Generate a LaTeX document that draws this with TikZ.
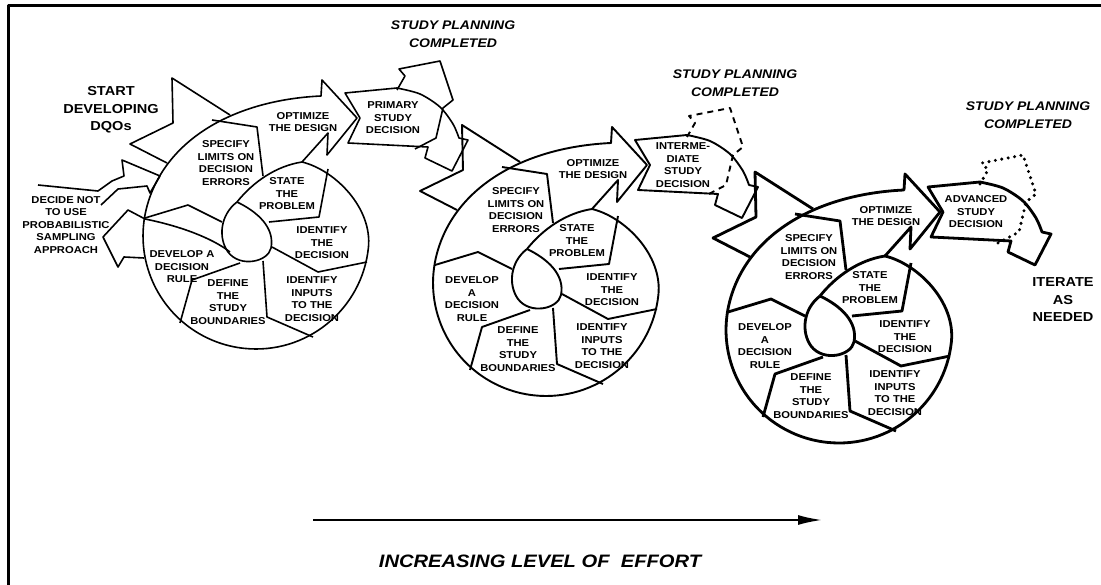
\documentclass[tikz,border=0pt]{standalone}
\usepackage{fontspec}
\setmainfont{Liberation Sans}
\newfontfamily\widesans[FakeStretch=1.12]{Liberation Sans}
\usetikzlibrary{arrows.meta}
\tikzset{
  lbl/.style={font=\widesans\fontsize{10}{12.5}\selectfont\bfseries, align=center, inner sep=0pt},
  big/.style={font=\widesans\fontsize{13}{17.5}\selectfont\bfseries, align=center, inner sep=0pt},
  ttl/.style={font=\widesans\fontsize{12.5}{18}\selectfont\bfseries\itshape, align=center, inner sep=0pt},
}
\begin{document}
\begin{tikzpicture}[x=1pt,y=-1pt,line join=round]
  \useasboundingbox (0,0) rectangle (1101,585);
  \draw[line width=3pt] (8,585) -- (8,6) -- (1101,6);

  % the three turns of the spiral
  \foreach \dx/\dy/\lw/\n/\vy/\dev/\dec in {
      0/0/1.6/1/267/{DEVELOP A\\DECISION\\RULE}/{PRIMARY\\STUDY\\DECISION},
      290/47/1.9/2/252/{DEVELOP\\A\\DECISION\\RULE}/{INTERME-\\DIATE\\STUDY\\DECISION},
      583/94/2.8/3/252/{DEVELOP\\A\\DECISION\\RULE}/{ADVANCED\\STUDY\\DECISION}}
  {
    \ifcase\n\or\tikzset{exit/.style={}}\or
      \tikzset{exit/.style={dash pattern=on 6pt off 5pt}}\or
      \tikzset{exit/.style={line width=3.4pt,line cap=round,dash pattern=on 0pt off 6.5pt}}\fi
    \begin{scope}[shift={(\dx,\dy)},line width=\lw pt]
      \draw (302,162) .. controls (335,170) and (372.6,208) .. (368.4,247.8)
        arc[start angle=6, end angle=195, radius=113]
        .. controls (165,139) and (235,100) .. (321,96)
        -- (322,80) -- (357,118) -- (327,155) -- (328,133) -- (302,162);
      \draw (237,202) .. controls (253,182) and (276,166) .. (302,162);
      \draw (237,202) .. controls (258,212) and (275,228) .. (271,248)
        .. controls (268,262) and (240,268) .. (228,252)
        .. controls (218,238) and (220,215) .. (237,202);
      \draw (230,115) -- (172,78) -- (173,123) -- (130,144) -- (167,163);
      % spokes
      \draw (145,218) -- (188,205) -- (222,222);
      \draw (240,263) -- (192,280) -- (180,323);
      \draw (263,261) -- (267,317) -- (313,337);
      \draw (272,247) -- (318,272) -- (367,262);
      \draw (269,222) -- (319,217) -- (328,169);
      \draw (212,120) -- (257,127) -- (263,176);
      % decision
      \draw plot[smooth] coordinates {(397,88) (420,94) (440,107) (453,124) (459,138)}
        -- (468,140) -- (452,171) -- (425,158) -- (428,147) -- (348,143)
        -- (360,118) -- (345,93) -- cycle;
      \draw[exit] (397,90) -- (405,76) -- (399,69) -- (440,61) -- (453,100)
        -- (443,108) -- (436,138) -- (415,149);
      \node[lbl] (spec\n) at (226,163) {SPECIFY\\LIMITS ON\\DECISION\\ERRORS};
      \node[lbl] (opt\n) at (303,122) {OPTIMIZE\\THE DESIGN};
      \node[lbl] (state\n) at (287,194) {STATE\\THE\\PROBLEM};
      \node[lbl] (idec\n) at (322,243) {IDENTIFY\\THE\\DECISION};
      \node[lbl] (inp\n) at (312,299) {IDENTIFY\\INPUTS\\TO THE\\DECISION};
      \node[lbl] (bnd\n) at (228,302) {DEFINE\\THE\\STUDY\\BOUNDARIES};
      \node[lbl] (dev\n) at (182,\vy) {\dev};
      \node[lbl] (dec\n) at (393,118) {\dec};
    \end{scope}
  }

  % way in and way out of the first turn
  \begin{scope}[line width=1.6pt]
    \draw (38,185) -- (98,191) -- (112,181) -- (124,176) -- (122,160) -- (160,176)
      -- (150,193) -- (147,186) -- (118,189) -- (101,205);
    \draw (145,219) -- (128,210) -- (103,237) -- (118,267) -- (124,257) -- (144,258);
    \draw (145,219) .. controls (180,226) and (212,238) .. (230,252);
  \end{scope}
  \node[big] (start) at (111,110) {START\\DEVELOPING\\DQOs};
  \node[lbl] (nouse) at (66,225) {DECIDE NOT\\TO USE\\PROBABILISTIC\\SAMPLING\\APPROACH};
  \node[ttl] (done1) at (453,34) {STUDY PLANNING\\COMPLETED};
  \node[ttl] (done2) at (735,83) {STUDY PLANNING\\COMPLETED};
  \node[ttl] (done3) at (1028,115) {STUDY PLANNING\\COMPLETED};
  \node[big] (iter) at (1063,300) {ITERATE\\AS\\NEEDED};

  % effort axis
  \coordinate (e0) at (313,520);
  \coordinate (e1) at (822,520);
  \draw[line width=2pt, -{Latex[length=24pt,width=10pt]}] (e0) -- (e1);
  \node[ttl, font=\widesans\fontsize{18}{20}\selectfont\bfseries\itshape] (effort) at (540,561)
    {INCREASING LEVEL OF\ \ EFFORT};
\end{tikzpicture}
\end{document}
